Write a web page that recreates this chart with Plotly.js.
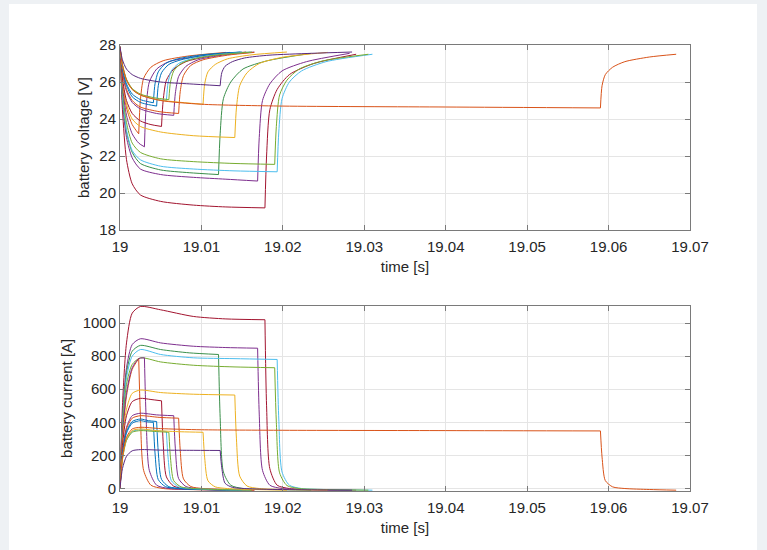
<!DOCTYPE html>
<html>
<head>
<meta charset="utf-8">
<script src="https://cdn.plot.ly/plotly-3.0.1.min.js"></script>
<style>
html,body{margin:0;padding:0;background:#eef1f4;}
#panel{position:absolute;left:9px;top:4px;width:748px;height:546px;background:#ffffff;}
#chart{position:absolute;left:0;top:0;width:767px;height:550px;}
</style>
</head>
<body>
<div id="panel"></div>
<div id="chart"></div>
<script>
// ---- data (time [s], battery voltage [V], battery current [A]) ----
const t1 = [19, 19.0003, 19.0008, 19.0015, 19.0025, 19.005, 19.009, 19.013, 19.0178, 19.018, 19.0184, 19.0193, 19.0208, 19.0238, 19.029];
const v1 = [27.9, 24.5, 21.8, 20.5, 19.9, 19.55, 19.35, 19.25, 19.2, 22.0, 24.5, 25.6, 26.4, 27.0, 27.5];
const i1 = [0, 500, 880, 1060, 1100, 1080, 1040, 1025, 1020, 500, 120, 20, 0, -8, -10];

const t2 = [19, 19.0003, 19.0008, 19.0015, 19.0025, 19.005, 19.009, 19.013, 19.0169, 19.0171, 19.0175, 19.0184, 19.0199, 19.0229, 19.0282];
const v2 = [27.9, 25.0, 23.0, 21.9, 21.3, 21.0, 20.85, 20.75, 20.65, 23.0, 25.0, 25.9, 26.6, 27.1, 27.55];
const i2 = [0, 420, 730, 870, 905, 880, 860, 852, 848, 450, 110, 20, 0, -6, -10];

const t3 = [19, 19.0003, 19.0008, 19.0015, 19.0025, 19.005, 19.0085, 19.0121, 19.0123, 19.0127, 19.0136, 19.0151, 19.0181, 19.0235];
const v3 = [27.9, 25.2, 23.3, 22.2, 21.6, 21.25, 21.1, 21.0, 23.2, 25.1, 26.0, 26.7, 27.15, 27.55];
const i3 = [0, 400, 700, 830, 865, 840, 820, 810, 430, 100, 20, 0, -6, -10];

const t4 = [19, 19.0003, 19.0008, 19.0015, 19.0025, 19.005, 19.009, 19.014, 19.0193, 19.0195, 19.0199, 19.0208, 19.0223, 19.0253, 19.031];
const v4 = [27.9, 25.3, 23.4, 22.3, 21.8, 21.45, 21.3, 21.2, 21.15, 23.3, 25.1, 26.0, 26.6, 27.1, 27.5];
const i4 = [0, 380, 670, 800, 840, 810, 790, 785, 780, 420, 100, 20, 0, -6, -10];

const t5 = [19, 19.0003, 19.0008, 19.0015, 19.0025, 19.005, 19.009, 19.014, 19.019, 19.0192, 19.0196, 19.0205, 19.022, 19.025, 19.0305];
const v5 = [27.9, 25.5, 23.8, 22.7, 22.2, 21.85, 21.7, 21.6, 21.55, 23.6, 25.3, 26.1, 26.7, 27.15, 27.5];
const i5 = [0, 360, 630, 750, 790, 765, 745, 735, 730, 400, 95, 18, 0, -6, -10];

const t6 = [19, 19.0003, 19.0008, 19.0015, 19.0023, 19.0025, 19.0029, 19.0038, 19.0053, 19.0083, 19.013];
const v6 = [27.9, 26.0, 24.6, 23.7, 23.2, 25.0, 26.2, 26.8, 27.15, 27.4, 27.6];
const i6 = [0, 300, 560, 720, 785, 450, 110, 20, 0, -6, -10];

const t7 = [19, 19.0003, 19.0008, 19.0015, 19.0023, 19.003, 19.0032, 19.0036, 19.0045, 19.006, 19.009, 19.0135];
const v7 = [27.9, 25.8, 24.2, 23.2, 22.7, 22.5, 24.6, 26.0, 26.7, 27.1, 27.35, 27.6];
const i7 = [0, 320, 580, 730, 785, 790, 440, 110, 20, 0, -6, -10];

const t8 = [19, 19.0003, 19.0008, 19.0015, 19.0025, 19.005, 19.009, 19.0141, 19.0143, 19.0147, 19.0156, 19.0171, 19.0201, 19.0255];
const v8 = [27.9, 26.0, 24.8, 24.0, 23.6, 23.3, 23.1, 23.0, 24.6, 25.8, 26.5, 27.0, 27.35, 27.6];
const i8 = [0, 280, 480, 575, 595, 580, 570, 565, 300, 75, 15, 0, -6, -10];

const t9 = [19, 19.0003, 19.0008, 19.0015, 19.0025, 19.0038, 19.0051, 19.0053, 19.0057, 19.0066, 19.0081, 19.0111, 19.0155];
const v9 = [27.9, 26.2, 25.0, 24.3, 23.9, 23.7, 23.6, 25.0, 26.1, 26.7, 27.1, 27.4, 27.62];
const i9 = [0, 260, 440, 525, 545, 538, 530, 280, 70, 14, 0, -6, -10];

const t10 = [19, 19.0003, 19.0008, 19.0015, 19.0025, 19.0045, 19.0066, 19.0068, 19.0072, 19.0081, 19.0096, 19.0126, 19.0165];
const v10 = [27.9, 26.5, 25.5, 24.9, 24.55, 24.3, 24.2, 25.4, 26.3, 26.85, 27.2, 27.45, 27.62];
const i10 = [0, 220, 370, 440, 455, 445, 440, 240, 60, 12, 0, -6, -10];

const t11 = [19, 19.0003, 19.0008, 19.0015, 19.0025, 19.0048, 19.0072, 19.0074, 19.0078, 19.0087, 19.0102, 19.0132, 19.0165];
const v11 = [27.9, 26.6, 25.6, 25.0, 24.65, 24.4, 24.3, 25.5, 26.35, 26.9, 27.2, 27.45, 27.6];
const i11 = [0, 215, 360, 425, 440, 430, 425, 230, 58, 12, 0, -6, -10];

const t12 = [19, 19.0003, 19.0008, 19.0015, 19.0025, 19.0035, 19.0045, 19.0047, 19.0051, 19.006, 19.0075, 19.0105, 19.015];
const v12 = [27.9, 26.7, 25.8, 25.2, 24.9, 24.78, 24.7, 25.8, 26.5, 26.95, 27.2, 27.45, 27.62];
const i12 = [0, 210, 345, 405, 420, 410, 405, 220, 55, 11, 0, -6, -10];

const t13 = [19, 19.0003, 19.0008, 19.0015, 19.0025, 19.0033, 19.0041, 19.0043, 19.0047, 19.0056, 19.0071, 19.0101, 19.0148];
const v13 = [27.9, 26.8, 25.9, 25.35, 25.05, 24.95, 24.88, 25.9, 26.55, 27.0, 27.25, 27.47, 27.62];
const i13 = [0, 200, 335, 395, 410, 403, 400, 215, 54, 11, 0, -6, -10];

const t14 = [19, 19.0003, 19.0008, 19.0015, 19.0025, 19.004, 19.0057, 19.0059, 19.0063, 19.0072, 19.0087, 19.0117, 19.016];
const v14 = [27.9, 26.9, 26.1, 25.6, 25.3, 25.1, 25.0, 25.95, 26.6, 27.0, 27.25, 27.47, 27.62];
const i14 = [0, 180, 295, 345, 355, 350, 345, 190, 48, 10, 0, -6, -10];

const t15 = [19, 19.0003, 19.0008, 19.0015, 19.0025, 19.0042, 19.006, 19.0062, 19.0066, 19.0075, 19.009, 19.012, 19.0162];
const v15 = [27.9, 26.95, 26.15, 25.65, 25.35, 25.15, 25.05, 26.0, 26.6, 27.0, 27.25, 27.47, 27.62];
const i15 = [0, 175, 290, 340, 350, 345, 340, 185, 47, 10, 0, -6, -10];

const t16 = [19, 19.0003, 19.0008, 19.0015, 19.0025, 19.0045, 19.0075, 19.0102, 19.0104, 19.0108, 19.0117, 19.0132, 19.0162, 19.0205];
const v16 = [27.9, 26.9, 26.1, 25.6, 25.3, 25.05, 24.9, 24.8, 25.9, 26.55, 26.95, 27.25, 27.47, 27.62];
const i16 = [0, 180, 300, 350, 360, 350, 343, 340, 185, 47, 10, 0, -6, -10];

const t17 = [19, 19.0003, 19.0008, 19.0015, 19.0025, 19.005, 19.01, 19.02, 19.04, 19.059, 19.0592, 19.0596, 19.0605, 19.062, 19.065, 19.0683];
const v17 = [27.9, 26.9, 26.1, 25.6, 25.3, 25.0, 24.8, 24.7, 24.65, 24.6, 25.8, 26.4, 26.8, 27.1, 27.35, 27.5];
const i17 = [0, 190, 310, 360, 370, 362, 355, 352, 350, 348, 190, 48, 10, 0, -6, -10];

const t18 = [19, 19.0003, 19.0008, 19.0015, 19.0025, 19.005, 19.0085, 19.0123, 19.0125, 19.0129, 19.0138, 19.0153, 19.0183, 19.0235, 19.0285];
const v18 = [27.9, 27.2, 26.7, 26.4, 26.2, 26.0, 25.9, 25.8, 26.5, 26.85, 27.1, 27.3, 27.45, 27.55, 27.62];
const i18 = [0, 120, 195, 228, 235, 232, 231, 230, 125, 32, 7, 0, -5, -8, -10];

const xTickVals = [19, 19.01, 19.02, 19.03, 19.04, 19.05, 19.06, 19.07];
const xTickText = ['19', '19.01', '19.02', '19.03', '19.04', '19.05', '19.06', '19.07'];
const vTickVals = [18, 20, 22, 24, 26, 28];
const iTickVals = [0, 200, 400, 600, 800, 1000];

// ---- styling ----
const times = [t1,t2,t3,t4,t5,t6,t7,t8,t9,t10,t11,t12,t13,t14,t15,t16,t17,t18];
const volts = [v1,v2,v3,v4,v5,v6,v7,v8,v9,v10,v11,v12,v13,v14,v15,v16,v17,v18];
const amps  = [i1,i2,i3,i4,i5,i6,i7,i8,i9,i10,i11,i12,i13,i14,i15,i16,i17,i18];
const colors = ['#A2142F','#7E2F8E','#3a8f4a','#4DBEEE','#77AC30','#D95319','#7E2F8E','#EDB120','#A2142F',
                '#7E2F8E','#D95319','#0072BD','#0072BD','#4DBEEE','#77AC30','#EDB120','#D95319','#5a2a80'];

const traces = [];
function seg(x, y, ax, ay, col) {
  return {x: x, y: y, xaxis: ax, yaxis: ay, type: 'scatter', mode: 'lines',
          line: {color: col, width: 1, shape: 'spline', smoothing: 0.7}, hoverinfo: 'skip', showlegend: false};
}
for (let k = 0; k < times.length; k++) {
  // the discharge ends where the voltage reaches its minimum
  const v = volts[k];
  let e = 0;
  for (let j = 1; j < v.length; j++) if (v[j] < v[e]) e = j;
  const t = times[k], a = amps[k];
  // discharge part and recovery part, each drawn smooth; the step between them stays sharp
  traces.push(seg(t.slice(0, e + 1), v.slice(0, e + 1), 'x', 'y', colors[k]));
  traces.push(seg(t.slice(e), v.slice(e), 'x', 'y', colors[k]));
  traces.push(seg(t.slice(0, e + 1), a.slice(0, e + 1), 'x2', 'y2', colors[k]));
  traces.push(seg(t.slice(e), a.slice(e), 'x2', 'y2', colors[k]));
}

const fnt = {family: 'Liberation Sans, Arial, sans-serif', size: 15, color: '#262626'};
const axBase = {
  showline: true, mirror: 'ticks', linecolor: '#7a7a7a', linewidth: 1,
  ticks: 'inside', ticklen: 5, tickcolor: '#7a7a7a', tickwidth: 1,
  showgrid: true, gridcolor: '#e5e5e5', gridwidth: 1, zeroline: false,
  tickfont: fnt
};
const xa = Object.assign({}, axBase, {range: [19, 19.07], tickmode: 'array', tickvals: xTickVals, ticktext: xTickText,
  ticklabelstandoff: 3, title: {text: 'time [s]', font: fnt, standoff: 7}});
const layout = {
  width: 767, height: 550,
  paper_bgcolor: 'rgba(0,0,0,0)', plot_bgcolor: '#ffffff',
  margin: {l: 120, r: 77, t: 45, b: 59},
  font: fnt,
  xaxis: Object.assign({}, xa, {anchor: 'y', domain: [0, 1]}),
  xaxis2: Object.assign({}, xa, {anchor: 'y2', domain: [0, 1]}),
  yaxis: Object.assign({}, axBase, {range: [18, 28], tickmode: 'array', tickvals: vTickVals, domain: [0.585, 1],
    title: {text: 'battery voltage [V]', font: fnt, standoff: 6}}),
  yaxis2: Object.assign({}, axBase, {range: [-15, 1105], tickmode: 'array', tickvals: iTickVals, domain: [0, 0.4155],
    title: {text: 'battery current [A]', font: fnt, standoff: 6}})
};
Plotly.newPlot('chart', traces, layout, {displayModeBar: false, staticPlot: true});
</script>
</body>
</html>
